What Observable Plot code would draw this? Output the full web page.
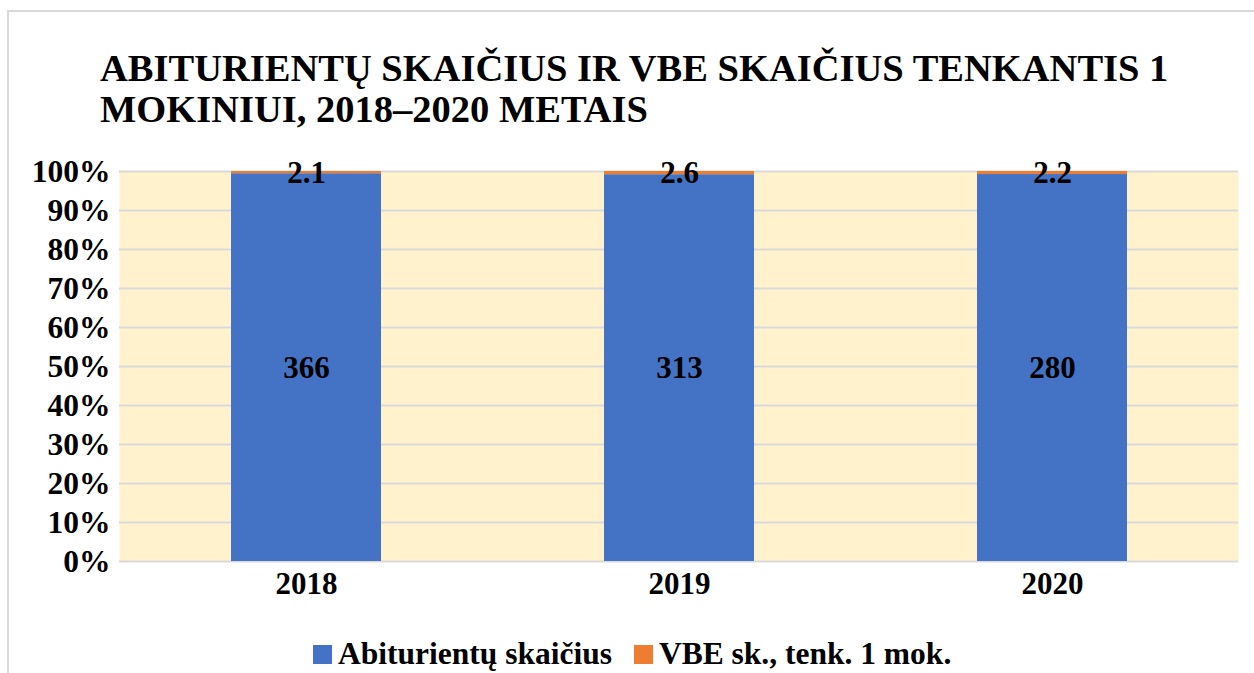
<!DOCTYPE html>
<html>
<head>
<meta charset="utf-8">
<script src="https://cdn.jsdelivr.net/npm/d3@7"></script>
<script src="https://cdn.jsdelivr.net/npm/@observablehq/plot@0.6"></script>
<style>
  html, body { margin: 0; padding: 0; background: #fff; }
  #wrap { position: relative; width: 1254px; height: 673px; overflow: hidden; font-family: "Liberation Serif", "Times New Roman", serif; }
  #border { position: absolute; left: 7px; top: 10px; width: 1300px; height: 700px; border: 2px solid #d9d9d9; box-sizing: border-box; }
  #title { position: absolute; left: 100px; top: 48px; font-weight: bold; font-size: 38.5px; line-height: 41px; color: #000; white-space: nowrap; }
  #chart { position: absolute; left: 0; top: 0; }
  #legend { position: absolute; left: 313px; top: 636px; height: 36px; line-height: 36px; display: flex; align-items: center; font-weight: bold; font-size: 31.5px; color: #000; white-space: nowrap; }
  .sw { display: inline-block; width: 19px; height: 19px; margin-right: 6px; }
  .item { display: inline-flex; align-items: center; margin-right: 22px; }
</style>
</head>
<body>
<div id="wrap">
  <div id="border"></div>
  <div id="chart"></div>
  <div id="title">ABITURIENTŲ SKAIČIUS IR VBE SKAIČIUS TENKANTIS 1<br>MOKINIUI, 2018–2020 METAIS</div>
  <div id="legend"></div>
</div>
<script>
const years = ["2018", "2019", "2020"];
const seriesNames = ["Abiturientų skaičius", "VBE sk., tenk. 1 mok."];
const abiturientai = [366, 313, 280];
const vbe = [2.1, 2.6, 2.2];
const colors = ["#4472C4", "#ED7D31"];
const yTicks = [0, 0.1, 0.2, 0.3, 0.4, 0.5, 0.6, 0.7, 0.8, 0.9, 1];

const data = [];
years.forEach((y, i) => {
  data.push({year: y, series: seriesNames[0], value: abiturientai[i]});
  data.push({year: y, series: seriesNames[1], value: vbe[i]});
});

const stackOpts = {x: "year", y: "value", z: "series", order: seriesNames, offset: "normalize"};

const chart = Plot.plot({
  width: 1254,
  height: 673,
  marginTop: 171,
  marginBottom: 112,
  marginLeft: 119,
  marginRight: 16,
  style: {fontFamily: "'Liberation Serif', 'Times New Roman', serif", fontWeight: "bold", fontSize: "31px", color: "#000", background: "transparent"},
  x: {domain: years, paddingInner: 0.598, paddingOuter: 0.299, label: null},
  y: {domain: [0, 1], label: null},
  color: {domain: seriesNames, range: colors},
  marks: [
    Plot.frame({fill: "#FFF2CC", stroke: null}),
    Plot.gridY(yTicks, {stroke: "#d9d9d9", strokeOpacity: 1, strokeWidth: 2}),
    Plot.barY(data, Plot.stackY({...stackOpts, fill: "series"})),
    Plot.text(data, Plot.stackY({...stackOpts, text: d => String(d.value), fontSize: 31, fontWeight: "bold", fill: "#000"})),
    Plot.axisY({ticks: yTicks, tickFormat: d => Math.round(d * 100) + "%", tickSize: 0, tickPadding: 9, fontSize: 31.5, label: null}),
    Plot.axisX({tickSize: 0, tickPadding: 10, fontSize: 31, label: null})
  ]
});
document.getElementById("chart").appendChild(chart);

const legend = document.getElementById("legend");
seriesNames.forEach((name, i) => {
  const item = document.createElement("span");
  item.className = "item";
  const sw = document.createElement("span");
  sw.className = "sw";
  sw.style.background = colors[i];
  item.appendChild(sw);
  item.appendChild(document.createTextNode(name));
  legend.appendChild(item);
});
</script>
</body>
</html>
